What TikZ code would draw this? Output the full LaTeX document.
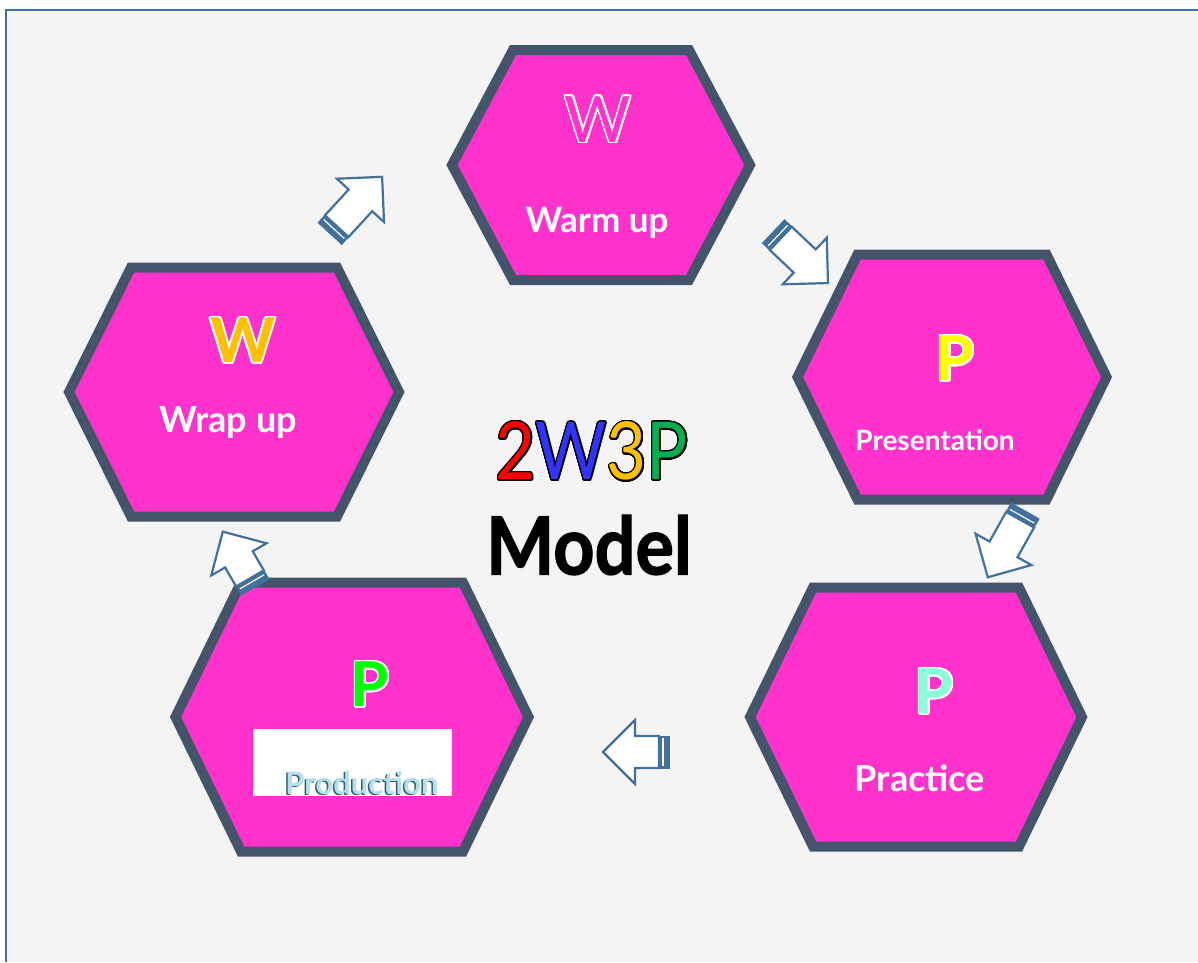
\documentclass[tikz,border=0pt]{standalone}
\usepackage{fontspec}
\setmainfont{Lato}
\newfontfamily\heavyfont{Lato}[FakeBold=1.6]
\usepackage{contour}
\contournumber{32}
\definecolor{bgc}{HTML}{F4F4F4}
\definecolor{framec}{HTML}{41719C}
\definecolor{hexfill}{HTML}{FF33CC}
\definecolor{hexline}{HTML}{44546A}
\definecolor{arrowc}{HTML}{41719C}
\definecolor{cred}{HTML}{FF0000}
\definecolor{cblue}{HTML}{3333FF}
\definecolor{corange}{HTML}{FFC000}
\definecolor{cgreen}{HTML}{00B050}
\definecolor{pyellow}{HTML}{FFFF00}
\definecolor{paqua}{HTML}{88FFD8}
\definecolor{pgreen}{HTML}{00FF00}
\definecolor{prodtext}{HTML}{B4E0EE}
\definecolor{prodshadow}{HTML}{2F5F70}
\tikzset{
  hexshape/.style={fill=hexfill, draw=hexline, line width=10pt, line join=miter},
  bigletter/.style={inner sep=0pt, font=\fontsize{62}{70}\selectfont\bfseries},
  hexlabel/.style={inner sep=0pt, text=white, font=\fontsize{35}{40}\selectfont\bfseries},
  arrowbody/.style={fill=white, draw=arrowc, line width=2.2pt, line join=miter},
  arrowbar/.style={fill=arrowc, draw=arrowc, line width=1pt},
}
\newcommand\hexa[6]{% name, cx, cy, a, b, h
  \coordinate (#1) at (#2,#3);
  \draw[hexshape, shift={(#2,#3)}] (-#4,0) -- (-#5,-#6) -- (#5,-#6) -- (#4,0) -- (#5,#6) -- (-#5,#6) -- cycle;
}
\newcommand\blockarrow[5]{% name, tail x, tail y, angle, length
  \begin{scope}[shift={(#2,#3)}, rotate=#4]
    \coordinate (#1) at (0,0);
    \draw[arrowbody] (10,-16) -- ({#5-32},-16) -- ({#5-32},-32) -- (#5,0) -- ({#5-32},32) -- ({#5-32},16) -- (10,16) -- cycle;
    \draw[arrowbar] (0,-16) rectangle (10,16);
    \draw[white, line width=1.2pt] (6,-14) -- (6,14);
  \end{scope}
}
\begin{document}
\begin{tikzpicture}[x=1pt,y=-1pt]
\useasboundingbox (0,0) rectangle (1198,962);
\fill[bgc] (6,10) rectangle (1198,962);
\draw[framec, line width=2.5pt] (6,962) -- (6,10) -- (1198,10);

\hexa{warm}{601}{165}{149}{88}{115}
\hexa{pres}{952}{377}{154.5}{94.5}{122.5}
\hexa{prac}{916}{717}{166}{103}{129.5}
\hexa{prod}{352}{717}{176.5}{111}{134.5}
\hexa{wrap}{234}{392}{165}{103}{124.5}

% letters
\contourlength{1.6pt}
\node[bigletter, font=\fontsize{64}{70}\selectfont] (lw1) at (598,120) {\color{hexfill}\contour{white}{W}};
\node[bigletter] (lp1) at (955,359) {\color{pyellow}\contour{white}{P}};
\node[bigletter] (lp2) at (934,692) {\color{paqua}\contour{white}{P}};
\node[bigletter] (lp3) at (370,685) {\color{pgreen}\contour{white}{P}};
\node[bigletter] (lw2) at (243,341) {\color{corange}\contour{white}{W}};

% labels
\node[hexlabel] (twarm) at (597,223) {Warm up};
\node[hexlabel, font=\fontsize{28}{32}\selectfont\bfseries] (tpres) at (935,440) {Presentation};
\node[hexlabel, font=\fontsize{36}{40}\selectfont\bfseries] (tprac) at (920,778) {Practice};
\node[hexlabel, font=\fontsize{36}{40}\selectfont\bfseries] (twrap) at (228,422) {Wrap up};

% production box
\fill[white] (253,729) rectangle (452,796);
\begin{scope}
  \clip (253,729) rectangle (452,796);
  \node[inner sep=0pt, text=prodshadow, font=\fontsize{31}{36}\selectfont\bfseries] (tprodsh) at (360.5,784.5) {Production};
  \node[inner sep=0pt, text=prodtext, font=\fontsize{31}{36}\selectfont\bfseries] (tprod) at (362,783) {Production};
\end{scope}

% center title
\contourlength{1.5pt}
\node[inner sep=0pt, font=\fontsize{80}{90}\selectfont, xscale=0.86, transform shape] (title) at (592,452) {{\color{cred}\contour{black}{2}}{\color{cblue}\contour{black}{W}}{\color{corange}\contour{black}{3}}{\color{cgreen}\contour{black}{P}}};
\node[inner sep=0pt, xscale=0.9, transform shape] (model) at (589,545) {\fontsize{80}{90}\selectfont\heavyfont\bfseries Model};

% arrows
\blockarrow{a1}{330}{233.5}{47.4}{77}
\blockarrow{a2}{773.5}{231.5}{-43.4}{75}
\blockarrow{a3}{1025}{511}{-119.3}{76}
\blockarrow{a4}{669}{752}{180}{66}
\blockarrow{a5}{255}{587}{120.2}{64}
\end{tikzpicture}
\end{document}
